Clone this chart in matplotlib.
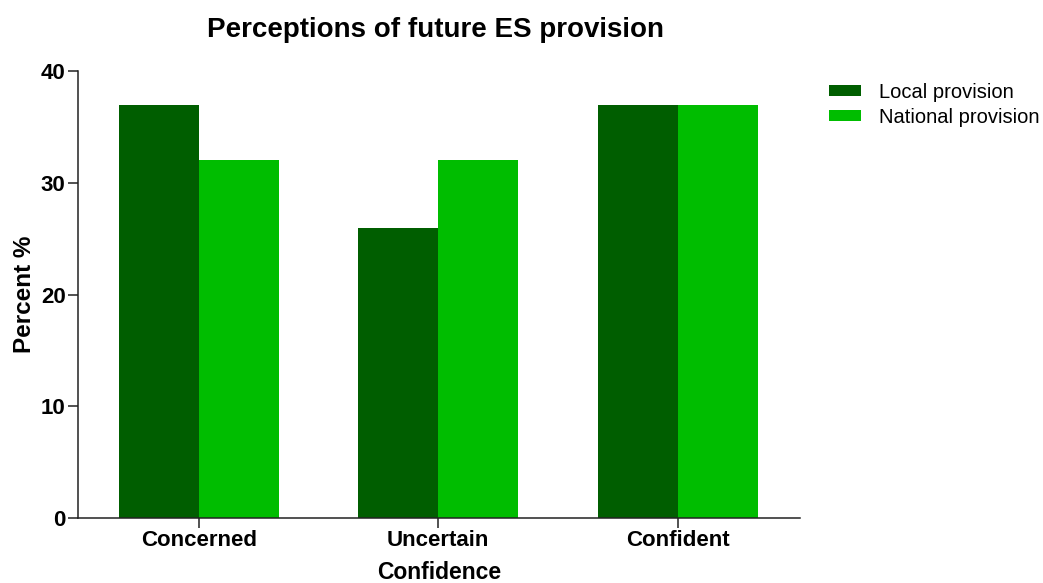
import matplotlib.pyplot as plt
import numpy as np

plt.rcParams['font.family'] = ['Liberation Sans', 'DejaVu Sans']

categories = ['Concerned', 'Uncertain', 'Confident']
local_vals = [37, 26, 37]
national_vals = [32, 32, 37]

fig = plt.figure(figsize=(10.43, 5.83), dpi=100)
ax = fig.add_axes([0.0748, 0.1115, 0.692, 0.7665])

x = np.arange(len(categories))
w = 0.334
ax.bar(x - w/2, local_vals, w, color='#005e00', label='Local provision')
ax.bar(x + w/2, national_vals, w, color='#00bd00', label='National provision')

ax.set_xlim(-0.505, 2.51)
ax.set_ylim(0, 40)
ax.set_yticks([0, 10, 20, 30, 40])
ax.set_xticks(x)
ax.set_xticklabels(categories, fontsize=16, fontweight='bold')
for lab in ax.get_yticklabels():
    lab.set_fontsize(16)
    lab.set_fontweight('bold')

ax.spines['top'].set_visible(False)
ax.spines['right'].set_visible(False)
for s in ['left', 'bottom']:
    ax.spines[s].set_linewidth(1.1)
    ax.spines[s].set_color('#222222')
ax.tick_params(direction='out', length=7, width=1.1, color='#222222', pad=2)

ax.set_ylabel('Percent %', fontsize=17.5, fontweight='bold', labelpad=3.5)
ax.set_xlabel('Confidence', fontsize=16.5, fontweight='bold', labelpad=6.5)
fig.text(0.418, 0.948, 'Perceptions of future ES provision', fontsize=20,
         fontweight='bold', ha='center', va='center')

fig.legend(loc='upper left', bbox_to_anchor=(0.777, 0.889), frameon=False,
           fontsize=14.5, handlelength=1.6, handleheight=0.5, handletextpad=0.9,
           labelspacing=0.3)

fig.savefig('out.png', dpi=100)
